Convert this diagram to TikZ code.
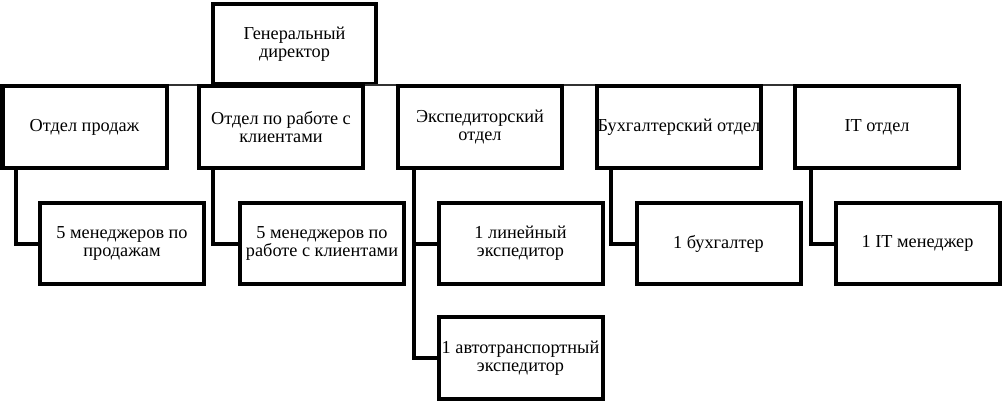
\documentclass[tikz,border=0pt]{standalone}
\usepackage{fontspec}
\setmainfont{Liberation Serif}
\usetikzlibrary{calc}
\begin{document}
\begin{tikzpicture}[x=0.75pt,y=-0.75pt,
  box/.style={draw=black,line width=3pt,inner sep=0pt,align=center,
    font=\fontsize{13.7}{13.5}\selectfont,minimum height=61pt,minimum width=123pt},
  conn/.style={draw=black,line width=3pt},
  bus/.style={draw=black!80,line width=1.5pt}]
\useasboundingbox (0,0) rectangle (1002,405);
\node[box,minimum height=60pt,minimum width=122pt] (gd) at (294.5,44) {Генеральный\\директор};
\coordinate (busL) at (84.5,85);
\coordinate (busR) at (877,85);
\draw[bus] (busL) -- (busR);
\node[box] (A) at (84.5,127) {Отдел продаж};
\node[box] (B) at (281,127) {Отдел по работе с\\клиентами};
\node[box] (C) at (480,127) {Экспедиторский\\отдел};
\node[box] (D) at (679,127) {Бухгалтерский отдел};
\node[box] (E) at (877,127) {IT отдел};
\node[box] (a) at (122,243.5) {5 менеджеров по\\продажам};
\node[box] (b) at (322,243.5) {5 менеджеров по\\работе с клиентами};
\node[box] (c1) at (520.5,243.5) {1 линейный\\экспедитор};
\node[box] (c2) at (520.5,358) {1 автотранспортный\\экспедитор};
\node[box] (d) at (718.5,243.5) {1 бухгалтер};
\node[box] (e) at (917.5,243.5) {1 IT менеджер};
\draw[conn] ($(A.south west)+(15,0)$) |- (a.west);
\draw[conn] ($(B.south west)+(16,0)$) |- (b.west);
\draw[conn] ($(C.south west)+(18,0)$) |- (c1.west);
\draw[conn] ($(C.south west)+(18,0)$) |- (c2.west);
\draw[conn] ($(D.south west)+(16,0)$) |- (d.west);
\draw[conn] ($(E.south west)+(18,0)$) |- (e.west);
\end{tikzpicture}
\end{document}
